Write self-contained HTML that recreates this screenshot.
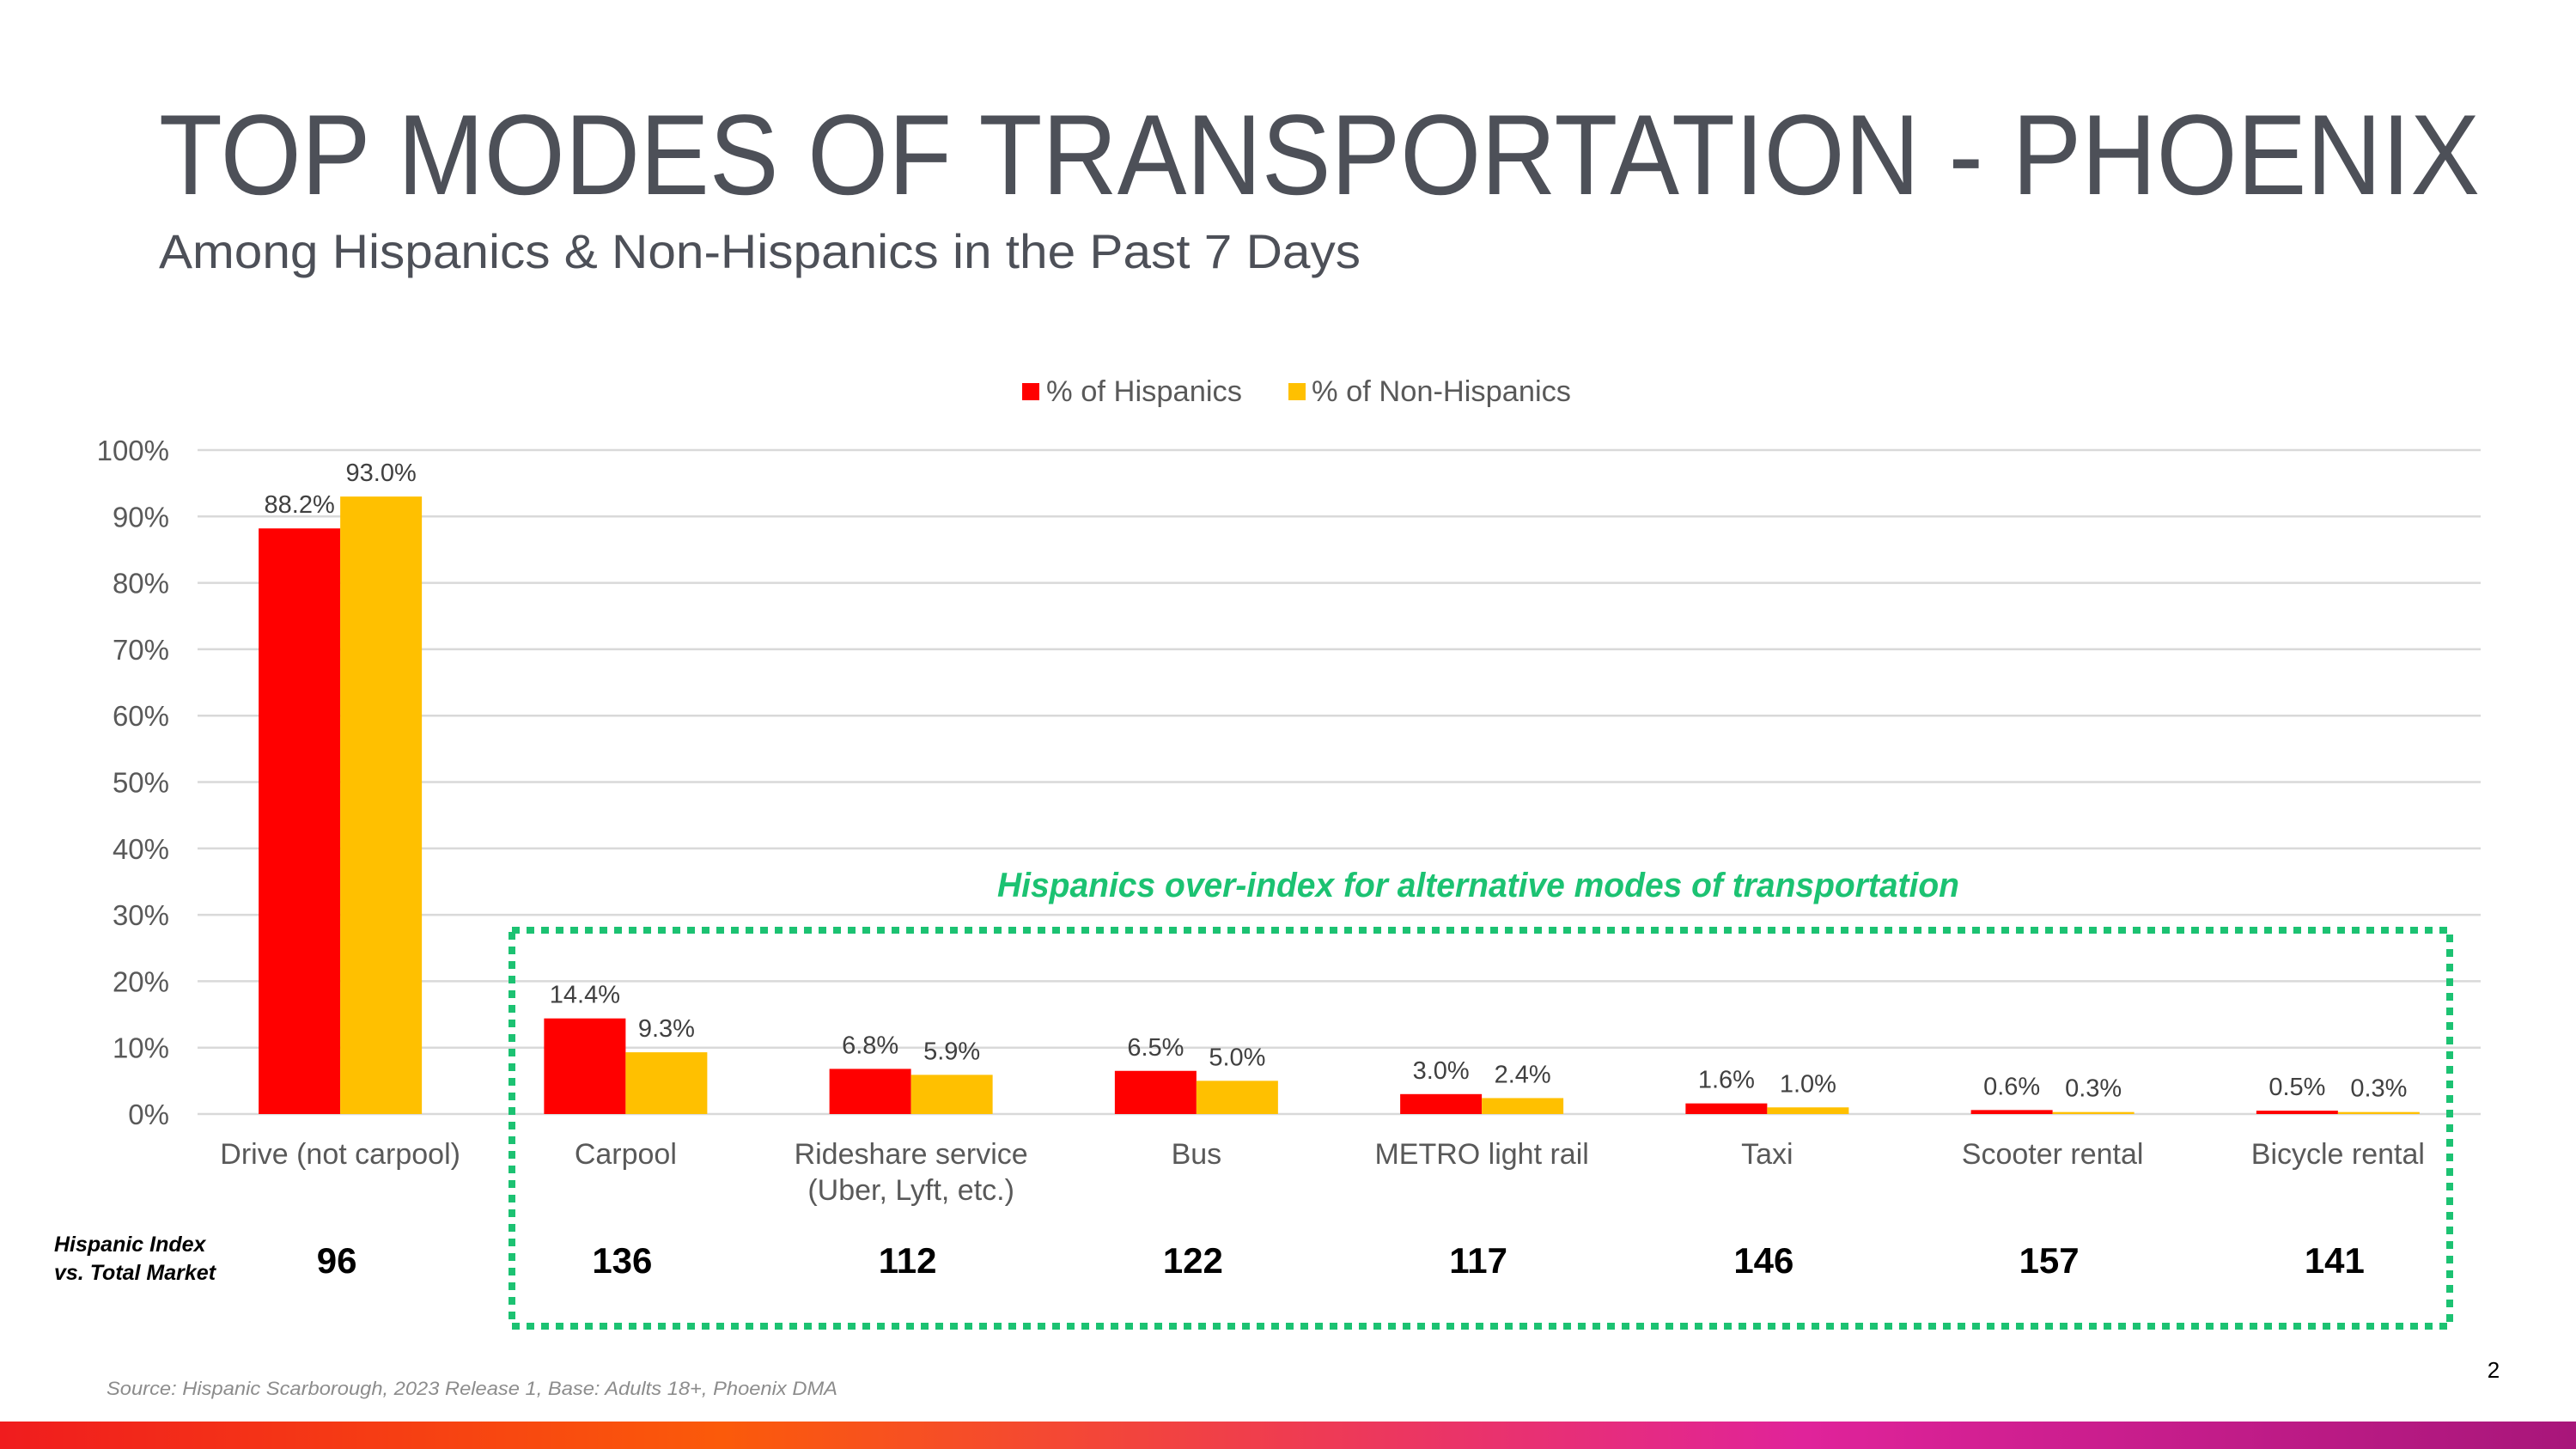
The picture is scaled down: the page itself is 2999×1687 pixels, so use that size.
<!DOCTYPE html>
<html><head><meta charset="utf-8"><style>
html,body{margin:0;padding:0;background:#fff;}
svg{display:block;font-family:"Liberation Sans",sans-serif;}
</style></head><body>
<svg id="chart" width="2999" height="1687" viewBox="0 0 2999 1687" xmlns="http://www.w3.org/2000/svg">
<defs>
<linearGradient id="foot" x1="0" x2="1" y1="0" y2="0">
<stop offset="0" stop-color="#f01c1e"/><stop offset="0.28" stop-color="#fb5a0a"/><stop offset="0.5" stop-color="#ef3c50"/><stop offset="0.7" stop-color="#e0239a"/><stop offset="1" stop-color="#a8167a"/>
</linearGradient>
</defs>
<text x="185" y="226" font-size="133" fill="#4d5058" textLength="2702" lengthAdjust="spacingAndGlyphs">TOP MODES OF TRANSPORTATION - PHOENIX</text>
<text x="185" y="312" font-size="56" fill="#4d5058" textLength="1399" lengthAdjust="spacingAndGlyphs">Among Hispanics &amp; Non-Hispanics in the Past 7 Days</text>
<g>
<rect x="1190" y="446" width="20" height="20" fill="#ff0000"/>
<text x="1218" y="467" font-size="34" fill="#595959" textLength="228" lengthAdjust="spacingAndGlyphs">% of Hispanics</text>
<rect x="1500" y="446" width="20" height="20" fill="#ffc000"/>
<text x="1527" y="467" font-size="34" fill="#595959" textLength="302" lengthAdjust="spacingAndGlyphs">% of Non-Hispanics</text>
</g>
<g id="grid"></g><g id="bars"></g><g id="labels"></g>
<text x="1721" y="1044" font-size="40" font-weight="bold" font-style="italic" fill="#1cc272" text-anchor="middle" textLength="1120" lengthAdjust="spacingAndGlyphs">Hispanics over-index for alternative modes of transportation</text>
<rect x="596" y="1083" width="2256" height="461" fill="none" stroke="#1cc272" stroke-width="8" stroke-dasharray="9 8"/>
<text x="63" y="1457" font-size="25" font-weight="bold" font-style="italic" fill="#000">Hispanic Index</text>
<text x="63" y="1490" font-size="25" font-weight="bold" font-style="italic" fill="#000">vs. Total Market</text>
<text x="124" y="1624" font-size="22" font-style="italic" fill="#8c8c8c" textLength="851" lengthAdjust="spacingAndGlyphs">Source: Hispanic Scarborough, 2023 Release 1, Base: Adults 18+, Phoenix DMA</text>
<text x="2903" y="1604" font-size="26" fill="#000" text-anchor="middle">2</text>
<rect x="0" y="1655" width="2999" height="32" fill="url(#foot)"/>
</svg>
<script>
const categories = ["Drive (not carpool)", "Carpool", "Rideshare service|(Uber, Lyft, etc.)", "Bus", "METRO light rail", "Taxi", "Scooter rental", "Bicycle rental"];
const hispanic = [88.2, 14.4, 6.8, 6.5, 3.0, 1.6, 0.6, 0.5];
const nonHispanic = [93.0, 9.3, 5.9, 5.0, 2.4, 1.0, 0.3, 0.3];
const indexValues = [96, 136, 112, 122, 117, 146, 157, 141];
const yTicks = [0, 10, 20, 30, 40, 50, 60, 70, 80, 90, 100];

const NS = "http://www.w3.org/2000/svg";
const X0 = 230, X1 = 2888, Y0 = 1297, Y100 = 524;
const band = (X1 - X0) / categories.length;
const barW = 95;
function y(v){ return Y0 - (v / 100) * (Y0 - Y100); }
function xc(i){ return X0 + band * (i + 0.5); }
function mk(tag, attrs, parent, txt){
  const e = document.createElementNS(NS, tag);
  for (const k in attrs) e.setAttribute(k, attrs[k]);
  if (txt !== undefined) e.textContent = txt;
  parent.appendChild(e); return e;
}
const grid = document.getElementById('grid'), bars = document.getElementById('bars'), labels = document.getElementById('labels');
yTicks.forEach(t => {
  const l = mk('line', {x1: X0, x2: X1, y1: y(t), y2: y(t), stroke: '#d9d9d9', 'stroke-width': 2.5}, grid);
  
  
  const tx = mk('text', {x: 197, y: y(t) + 12, 'font-size': 33, fill: '#595959', 'text-anchor': 'end'}, grid, t + '%');
  
  
});
categories.forEach((c, i) => {
  const cx = xc(i);
  const r = mk('rect', {x: cx - barW, y: y(hispanic[i]), width: barW, height: Y0 - y(hispanic[i]), fill: '#ff0000'}, bars);
  
  
  const b = mk('rect', {x: cx, y: y(nonHispanic[i]), width: barW, height: Y0 - y(nonHispanic[i]), fill: '#ffc000'}, bars);
  
  
  const l1 = mk('text', {x: cx - barW / 2, y: y(hispanic[i]) - 18, 'font-size': 29, fill: '#404040', 'text-anchor': 'middle'}, labels, hispanic[i].toFixed(1) + '%');
  
  
  const l2 = mk('text', {x: cx + barW / 2, y: y(nonHispanic[i]) - 18, 'font-size': 29, fill: '#404040', 'text-anchor': 'middle'}, labels, nonHispanic[i].toFixed(1) + '%');
  
  
  c.split('|').forEach((line, k) => {
    const t = mk('text', {x: cx, y: 1355 + k * 42, 'font-size': 34, fill: '#595959', 'text-anchor': 'middle'}, labels, line);
    
    
  });
  const ix = mk('text', {x: cx - 4, y: 1482, 'font-size': 42, 'font-weight': 'bold', fill: '#000', 'text-anchor': 'middle'}, labels, indexValues[i]);
  
  
});
</script>
</body></html>
